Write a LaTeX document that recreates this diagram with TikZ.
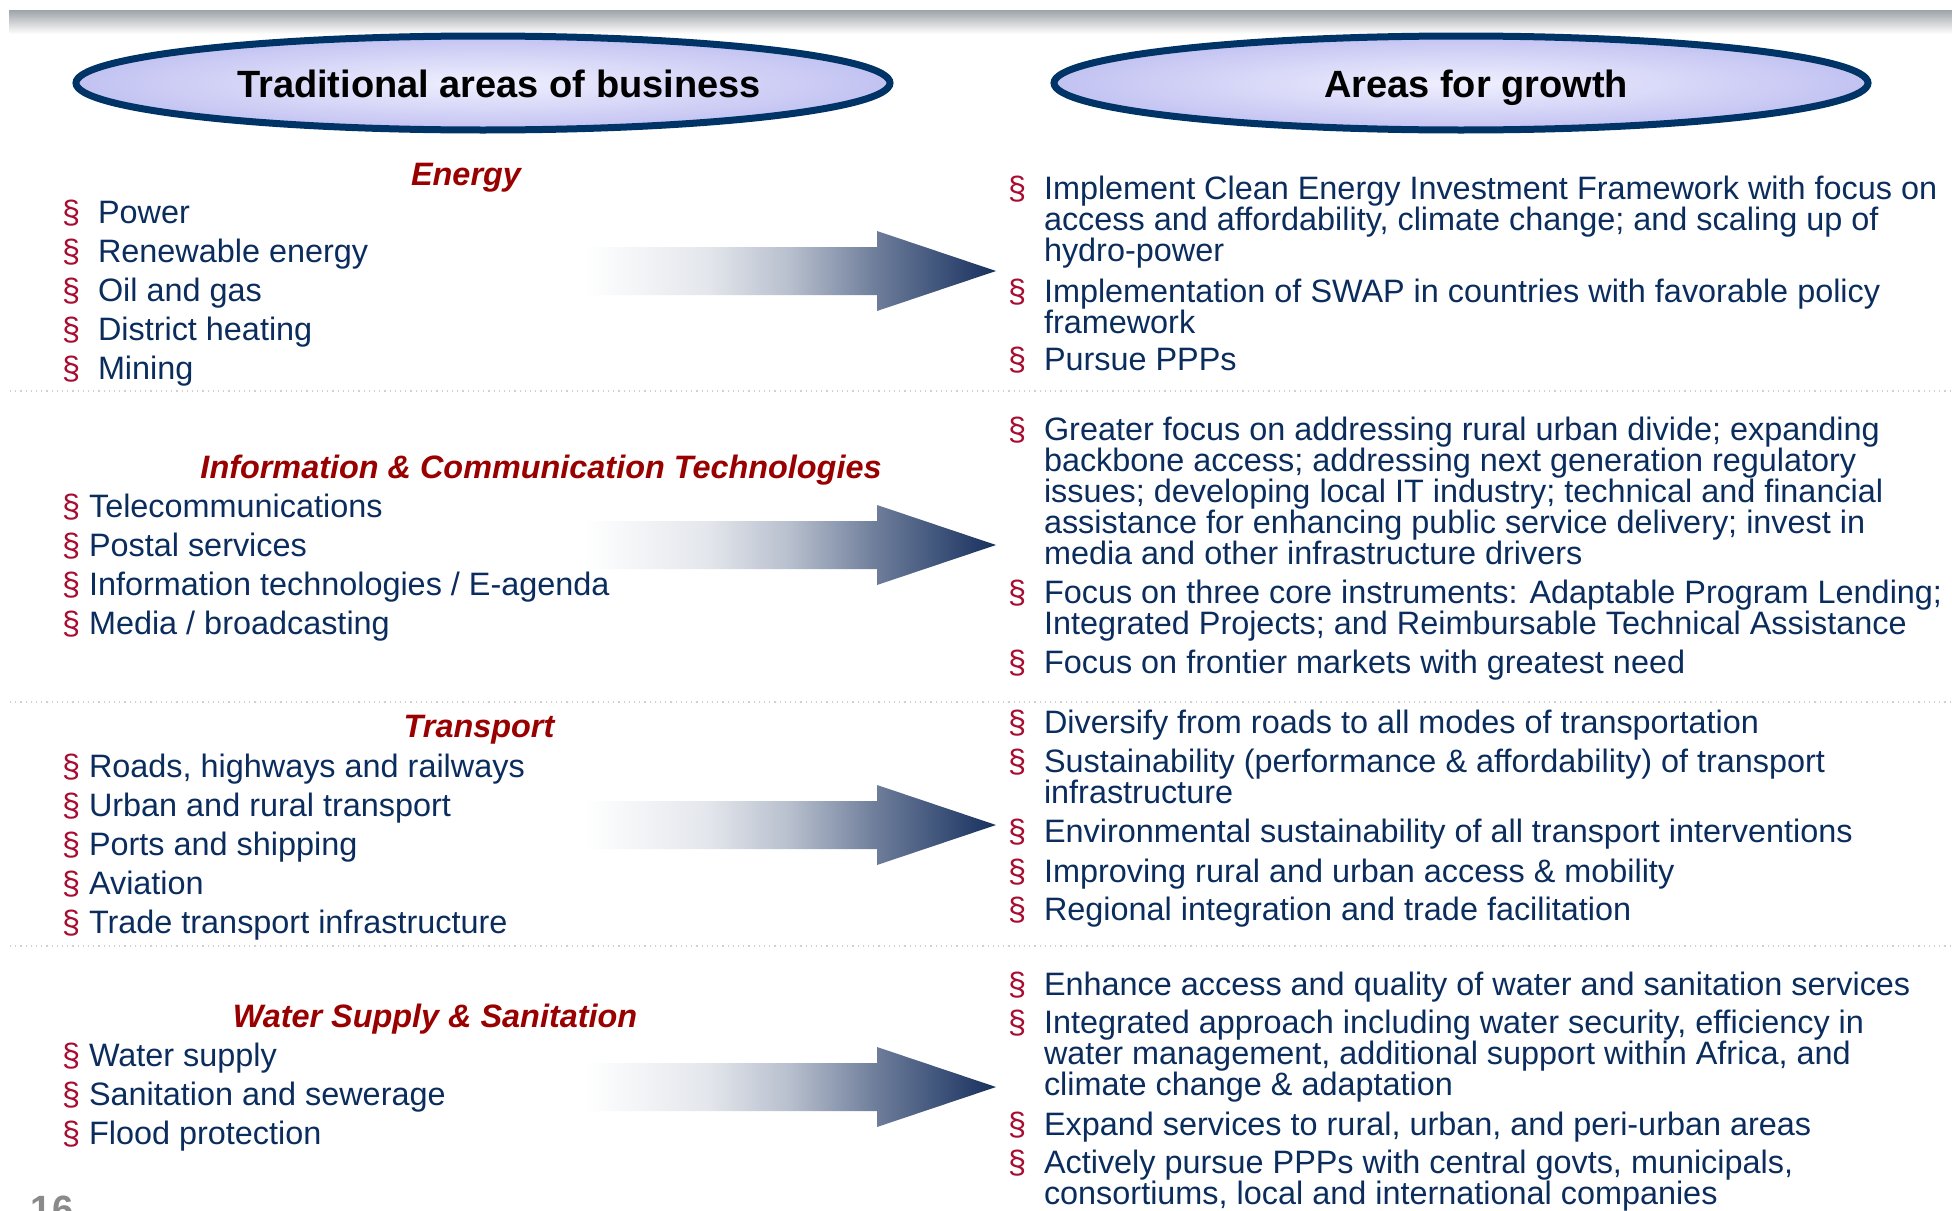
\documentclass[tikz,border=0pt]{standalone}
\usepackage{fontspec}
\setmainfont{Liberation Sans}
\usetikzlibrary{shapes.geometric}
\definecolor{navytxt}{HTML}{0B2D5E}
\definecolor{bulred}{HTML}{A80C30}
\definecolor{headred}{HTML}{990000}
\definecolor{ellborder}{HTML}{003366}
\definecolor{ellin}{HTML}{F0F0FF}
\definecolor{ellout}{HTML}{C2C2F2}
\definecolor{arrnavy}{HTML}{17305E}
\definecolor{pagegray}{HTML}{8A8A8A}
\definecolor{barcol}{HTML}{9EA3A8}
\definecolor{sepcol}{HTML}{D0D0D0}
\colorlet{arA}{white!88!arrnavy}
\colorlet{arB}{white!69!arrnavy}
\colorlet{arC}{white!37!arrnavy}
\pgfdeclarehorizontalshading{arrowshade}{100bp}{color(0bp)=(white); color(25bp)=(white); color(40bp)=(arA); color(50bp)=(arB); color(60.5bp)=(arC); color(75bp)=(arrnavy); color(100bp)=(arrnavy)}
\newcommand{\bs}{\makebox[18pt][l]{\textcolor{bulred}{§}}}
\newcommand{\bsn}{\textcolor{bulred}{§} }
\newcommand{\bi}{\makebox[18pt]{}}
\newcommand{\fl}{\rule{0pt}{12pt}}
\newcommand{\blockarrow}[1]{\shade[shading=arrowshade] (585,{#1-24}) -- (877,{#1-24}) -- (877,{#1-40}) -- (996,#1) -- (877,{#1+40}) -- (877,{#1+24}) -- (585,{#1+24}) -- cycle;}
\begin{document}
\begin{tikzpicture}[x=0.5pt,y=-0.5pt,
  every node/.style={inner sep=0pt, outer sep=0pt},
  body/.style={font=\fontsize{16.2pt}{15.5pt}\selectfont, text=navytxt, align=left},
  lefti/.style={body, anchor=base west},
  righti/.style={body, anchor=north west},
  head/.style={font=\fontsize{16.2pt}{19pt}\selectfont\bfseries\itshape, text=headred, anchor=base},
  oval/.style={ellipse, draw=ellborder, line width=3.5pt, inner color=ellin, outer color=ellout, minimum width=407pt, minimum height=47pt},
  title/.style={font=\fontsize{19pt}{22pt}\selectfont\bfseries, text=black, anchor=base},
  sepline/.style={draw=sepcol, line width=0.6pt, dotted}]
\useasboundingbox (0,0) rectangle (1952,1210);
\fill[white] (0,0) rectangle (1952,1210);
% top bar
\shade[top color=barcol, bottom color=white] (9,10) rectangle (1952,34);
% header ovals
\node[oval] (e1) at (483,83) {};
\node[oval] (e2) at (1461,83) {};
\node[title] (t1) at (499,97) {Traditional areas of business};
\node[title] (t2) at (1476,97) {Areas for growth};
% separators
\draw[sepline] (10,391) -- (1952,391);
\draw[sepline] (10,702) -- (1952,702);
\draw[sepline] (10,946) -- (1952,946);
% arrows
\blockarrow{271}
\blockarrow{545}
\blockarrow{825}
\blockarrow{1087}
% ---- Energy
\node[head] (h1) at (466,185) {Energy};
\node[lefti] (l1a) at (62,223) {\bs Power};
\node[lefti] (l1b) at (62,262) {\bs Renewable energy};
\node[lefti] (l1c) at (62,301) {\bs Oil and gas};
\node[lefti] (l1d) at (62,340) {\bs District heating};
\node[lefti] (l1e) at (62,379) {\bs Mining};
\node[righti] (r1a) at (1008,175) {\fl\bs Implement Clean Energy Investment Framework with focus on\\\bi access and affordability, climate change; and scaling up of\\\bi hydro-power};
\node[righti] (r1b) at (1008,278) {\fl\bs Implementation of SWAP in countries with favorable policy\\\bi framework};
\node[righti] (r1c) at (1008,346) {\fl\bs Pursue PPPs};
% ---- ICT
\node[head] (h2) at (541,478) {Information \& Communication Technologies};
\node[lefti] (l2a) at (62,517) {\bsn Telecommunications};
\node[lefti] (l2b) at (62,556) {\bsn Postal services};
\node[lefti] (l2c) at (62,595) {\bsn Information technologies / E-agenda};
\node[lefti] (l2d) at (62,634) {\bsn Media / broadcasting};
\node[righti] (r2a) at (1008,416) {\fl\bs Greater focus on addressing rural urban divide; expanding\\\bi backbone access; addressing next generation regulatory\\\bi issues; developing local IT industry; technical and financial\\\bi assistance for enhancing public service delivery; invest in\\\bi media and other infrastructure drivers};
\node[righti] (r2b) at (1008,579) {\fl\bs Focus on three core instruments: Adaptable Program Lending;\\\bi Integrated Projects; and Reimbursable Technical Assistance};
\node[righti] (r2c) at (1008,649) {\fl\bs Focus on frontier markets with greatest need};
% ---- Transport
\node[head] (h3) at (479,737) {Transport};
\node[lefti] (l3a) at (62,777) {\bsn Roads, highways and railways};
\node[lefti] (l3b) at (62,816) {\bsn Urban and rural transport};
\node[lefti] (l3c) at (62,855) {\bsn Ports and shipping};
\node[lefti] (l3d) at (62,894) {\bsn Aviation};
\node[lefti] (l3e) at (62,933) {\bsn Trade transport infrastructure};
\node[righti] (r3a) at (1008,709) {\fl\bs Diversify from roads to all modes of transportation};
\node[righti] (r3b) at (1008,748) {\fl\bs Sustainability (performance \& affordability) of transport\\\bi infrastructure};
\node[righti] (r3c) at (1008,818) {\fl\bs Environmental sustainability of all transport interventions};
\node[righti] (r3d) at (1008,858) {\fl\bs Improving rural and urban access \& mobility};
\node[righti] (r3e) at (1008,896) {\fl\bs Regional integration and trade facilitation};
% ---- Water
\node[head] (h4) at (435,1027) {Water Supply \& Sanitation};
\node[lefti] (l4a) at (62,1066) {\bsn Water supply};
\node[lefti] (l4b) at (62,1105) {\bsn Sanitation and sewerage};
\node[lefti] (l4c) at (62,1144) {\bsn Flood protection};
\node[righti] (r4a) at (1008,971) {\fl\bs Enhance access and quality of water and sanitation services};
\node[righti] (r4b) at (1008,1009) {\fl\bs Integrated approach including water security, efficiency in\\\bi water management, additional support within Africa, and\\\bi climate change \& adaptation};
\node[righti] (r4c) at (1008,1111) {\fl\bs Expand services to rural, urban, and peri-urban areas};
\node[righti] (r4d) at (1008,1149) {\fl\bs Actively pursue PPPs with central govts, municipals,\\\bi consortiums, local and international companies};
% page number
\node[anchor=base west, font=\fontsize{19pt}{22pt}\selectfont\bfseries, text=pagegray] (pg) at (31,1222) {16};
\end{tikzpicture}
\end{document}
